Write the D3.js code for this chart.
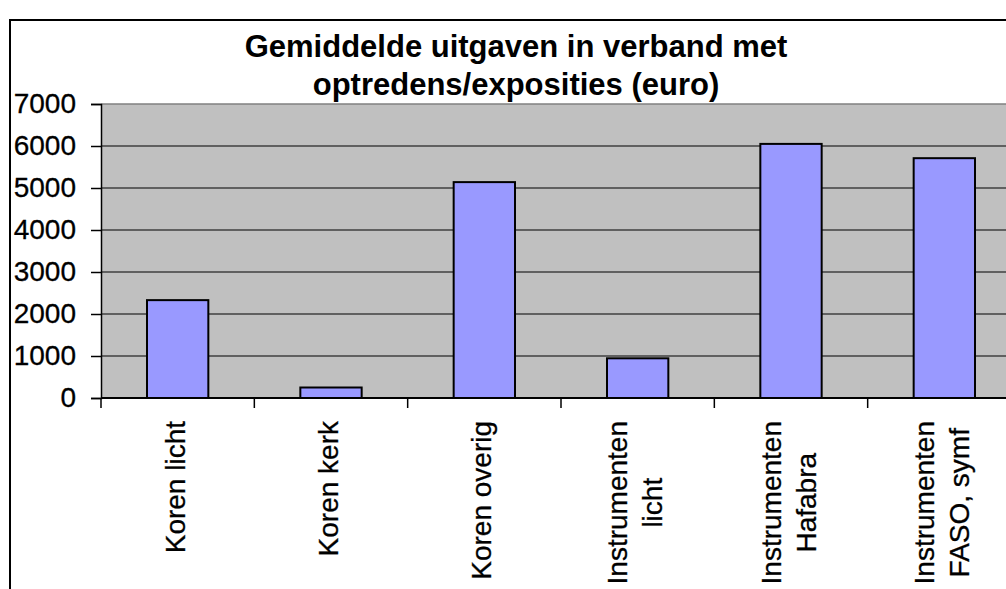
<!DOCTYPE html>
<html>
<head>
<meta charset="utf-8">
<script src="https://cdn.jsdelivr.net/npm/d3@7"></script>
<style>
  body { margin: 0; background: #fff; }
  text { font-family: "Liberation Sans", Arial, sans-serif; fill: #000; }
</style>
</head>
<body>
<div class="playground"></div>
<script>
var categories = [
  ["Koren licht"],
  ["Koren kerk"],
  ["Koren overig"],
  ["Instrumenten", "licht"],
  ["Instrumenten", "Hafabra"],
  ["Instrumenten", "FASO, symf"]
];
var values = [2330, 250, 5140, 945, 6050, 5710];
var yTicks = [0, 1000, 2000, 3000, 4000, 5000, 6000, 7000];
var titleLines = ["Gemiddelde uitgaven in verband met", "optredens/exposities (euro)"];

var W = 1006, H = 589;
var plot = {left: 101, top: 104, right: 1021, bottom: 398};

var svg = d3.select('.playground')
  .append('svg')
  .attr('width', W)
  .attr('height', H);

// chart border (runs off the right and bottom edge)
svg.append('rect')
  .attr('x', 10).attr('y', 20)
  .attr('width', 1100).attr('height', 700)
  .attr('fill', '#fff')
  .attr('stroke', '#000')
  .attr('stroke-width', 2);

var x = d3.scaleBand()
  .domain(d3.range(categories.length))
  .range([plot.left, plot.right])
  .paddingInner(0.6)
  .paddingOuter(0.3);

var y = d3.scaleLinear()
  .domain([0, 7000])
  .range([plot.bottom, plot.top]);

// plot area
svg.append('rect')
  .attr('x', plot.left).attr('y', plot.top)
  .attr('width', plot.right - plot.left)
  .attr('height', plot.bottom - plot.top)
  .attr('fill', '#c0c0c0');

// gridlines
svg.selectAll('.grid')
  .data(yTicks.slice(1))
  .enter()
  .append('line')
  .attr('x1', plot.left).attr('x2', plot.right)
  .attr('y1', function(d){ return y(d); })
  .attr('y2', function(d){ return y(d); })
  .attr('stroke', function(d){ return d == 7000 ? '#808080' : '#404040'; })
  .attr('stroke-width', 1.5);

// bars
svg.selectAll('.bar')
  .data(values)
  .enter()
  .append('rect')
  .attr('x', function(d, i){ return x(i); })
  .attr('y', function(d){ return y(d); })
  .attr('width', x.bandwidth())
  .attr('height', function(d){ return y(0) - y(d); })
  .attr('fill', '#9999ff')
  .attr('stroke', '#000')
  .attr('stroke-width', 2);

// y axis
var yAxis = d3.axisLeft(y)
  .tickValues(yTicks)
  .tickSize(10)
  .tickPadding(15)
  .tickFormat(d3.format('d'));

var gy = svg.append('g')
  .attr('transform', 'translate(' + plot.left + ',0)')
  .call(yAxis);
gy.select('.domain').attr('stroke', '#000').attr('stroke-width', 1.5);
gy.selectAll('.tick line').attr('stroke', '#000').attr('stroke-width', 1.5);
gy.selectAll('.tick text')
  .style('font-size', '28px')
  .style('font-family', '"Liberation Sans", Arial, sans-serif')
  .attr('fill', '#000')
  .attr('stroke', '#000')
  .attr('stroke-width', 0.3);

// x axis line and tick marks between categories
var step = x.step();
var boundaries = d3.range(categories.length + 1).map(function(i){ return plot.left + i * step; });
svg.append('line')
  .attr('x1', plot.left).attr('x2', plot.right)
  .attr('y1', plot.bottom).attr('y2', plot.bottom)
  .attr('stroke', '#000').attr('stroke-width', 2);
svg.selectAll('.xtick')
  .data(boundaries)
  .enter()
  .append('line')
  .attr('x1', function(d){ return d; })
  .attr('x2', function(d){ return d; })
  .attr('y1', plot.bottom).attr('y2', plot.bottom + 10)
  .attr('stroke', '#000').attr('stroke-width', 1.5);

// category labels, rotated, lines centred on each other
var labelTop = 421, lineGap = 35;
categories.forEach(function(lines, i){
  var cx = x(i) + x.bandwidth() / 2;
  var g = svg.append('g');
  var texts = lines.map(function(s, j){
    return g.append('text')
      .style('font-size', '28px')
      .attr('text-anchor', 'middle')
      .attr('stroke', '#000')
      .attr('stroke-width', 0.3)
      .text(s);
  });
  var maxW = d3.max(texts, function(t){ return t.node().getComputedTextLength(); });
  var cy = labelTop + maxW / 2;
  texts.forEach(function(t, j){
    var off = (j - (lines.length - 1) / 2) * lineGap;
    var lx = cx + off + 7;
    t.attr('transform', 'translate(' + lx + ',' + cy + ') rotate(-90)');
  });
});

// title
svg.selectAll('.title')
  .data(titleLines)
  .enter()
  .append('text')
  .attr('x', 516)
  .attr('y', function(d, i){ return 57 + i * 38; })
  .attr('text-anchor', 'middle')
  .style('font-size', '31px')
  .style('font-weight', 'bold')
  .text(function(d){ return d; });
</script>
</body>
</html>
